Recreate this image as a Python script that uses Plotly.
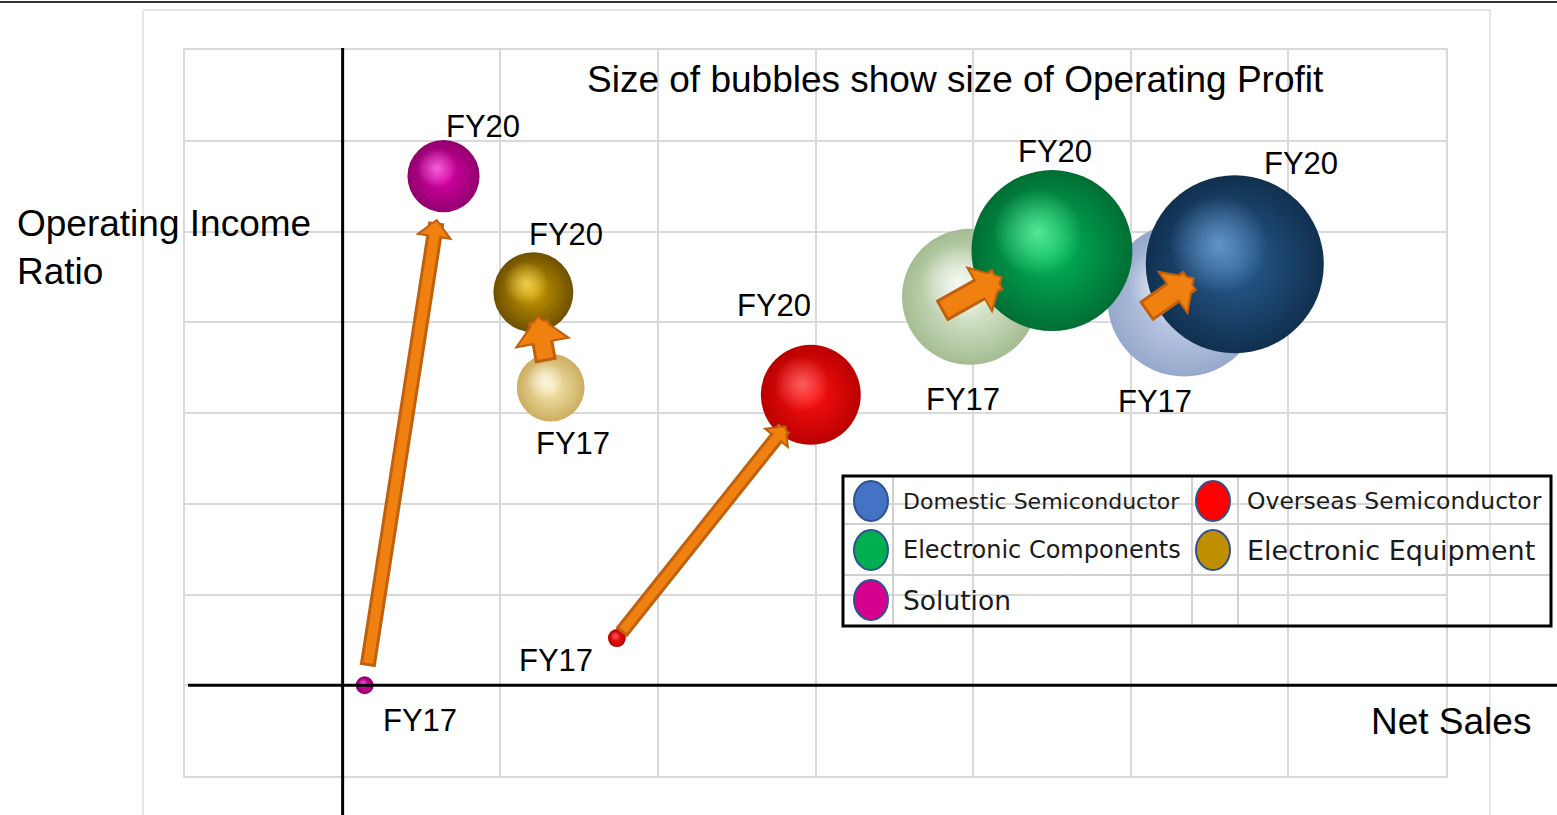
import math
import plotly.graph_objects as go

# ---------------- data ----------------
segments = ["Domestic Semiconductor", "Overseas Semiconductor",
            "Electronic Components", "Electronic Equipment", "Solution"]
net_sales_fy17 = [5.34, 1.74, 3.98, 1.32, 0.14]
net_sales_fy20 = [5.66, 2.97, 4.50, 1.21, 0.64]
op_ratio_fy17 = [4.25, 0.52, 4.28, 3.28, 0.00]
op_ratio_fy20 = [4.64, 3.20, 4.79, 4.33, 5.61]
op_profit_fy17 = [237, 3.2, 185, 46, 3.2]
op_profit_fy20 = [317, 100, 259, 64, 52]
year_labels = ["FY17", "FY20"]
title_text = "Size of bubbles show size of Operating Profit"
x_title = "Net Sales"
y_title = "Operating Income<br>Ratio"

# ---------------- styles ----------------
W, H = 1557, 815
FONT = "Liberation Sans, Arial, sans-serif"
LEG_FONT = "DejaVu Sans, sans-serif"

X_RANGE = [-1, 7]
Y_RANGE = [-1, 7]
X_DOM_PX = (185, 1446)
Y_DOM_PX = (776, 50)
PX_PER_X = (X_DOM_PX[1] - X_DOM_PX[0]) / (X_RANGE[1] - X_RANGE[0])
PX_PER_Y = (Y_DOM_PX[0] - Y_DOM_PX[1]) / (Y_RANGE[1] - Y_RANGE[0])

legend_colors = ["#4472C4", "#FF0000", "#00B050", "#BF8F00", "#D6008F"]
legend_sizes = [22, 23.5, 24, 27, 26.5]
fy20_main = ["#2A5E93", "#FF1212", "#00B85A", "#CC9C00", "#DC00AA"]
fy20_edge = ["#10304F", "#BA0000", "#006E33", "#6E5000", "#92006E"]
fy20_hl = [(120, 170, 225), (255, 120, 120), (110, 255, 175), (255, 230, 100), (255, 130, 235)]
fy17_main = ["#CED9F0", "#FF1212", "#E8F3DE", "#F9EAB6", "#DC00AA"]
fy17_edge = ["#96A8CC", "#BA0000", "#A4BC92", "#CCAE60", "#92006E"]
fy17_hl = [(255, 255, 255), (255, 120, 120), (255, 255, 255), (255, 255, 245), (255, 130, 235)]

# label offsets in px (dx, dy-up)
fy17_label_shift = [(-29, -102), (-61, -22), (-7, -103), (22, -56), (55, -35)]
fy20_label_shift = [(66, 101), (-37, 89), (3, 99), (33, 58), (39, 50)]

# arrow styling: standoff, startstandoff, xshift, yshift, shaft width, head width
arrow_style = [
    (0, 0, -40, -13, 24, 55),
    (39, 5, 0, 0, 15, 34),
    (22, 0, -30, -15, 24, 55),
    (23, 25, 0, 0, 22, 58),
    (43, 18, 0, 0, 16, 38),
]
ARROW_EDGE = "#C0600C"
ARROW_FILL = "#F0800F"


def px(xpix):
    return xpix / W


def py(ypix):
    return 1 - ypix / H


fig = go.Figure()

MAX_DIAM = 178
sizeref = 2.0 * max(op_profit_fy17 + op_profit_fy20) / (MAX_DIAM ** 2)


def diam(v):
    return math.sqrt(2.0 * v / sizeref)


def add_spheres(xs, ys, vals, main, edge, hl, name):
    fig.add_trace(go.Scatter(
        x=xs, y=ys, mode="markers", name=name, text=segments,
        hoverinfo="skip", showlegend=False, cliponaxis=False,
        marker=dict(size=vals, sizemode="area", sizeref=sizeref, opacity=1,
                    color=edge, line=dict(width=0),
                    gradient=dict(type="radial", color=main)),
    ))
    # specular highlight, shifted up-left relative to each bubble's size
    d = [diam(v) for v in vals]
    hx = [x - 0.09 * di / PX_PER_X for x, di in zip(xs, d)]
    hy = [y + 0.11 * di / PX_PER_Y for y, di in zip(ys, d)]
    fig.add_trace(go.Scatter(
        x=hx, y=hy, mode="markers", hoverinfo="skip", showlegend=False, cliponaxis=False,
        marker=dict(size=[0.55 * di for di in d], sizemode="diameter", opacity=1,
                    color=["rgba(%d,%d,%d,0)" % c for c in hl], line=dict(width=0),
                    gradient=dict(type="radial", color=["rgba(%d,%d,%d,0.75)" % c for c in hl])),
    ))


add_spheres(net_sales_fy17, op_ratio_fy17, op_profit_fy17, fy17_main, fy17_edge, fy17_hl, year_labels[0])
add_spheres(net_sales_fy20, op_ratio_fy20, op_profit_fy20, fy20_main, fy20_edge, fy20_hl, year_labels[1])

# year labels
for i in range(len(segments)):
    for xs, ys, shifts, lab in ((net_sales_fy17, op_ratio_fy17, fy17_label_shift, year_labels[0]),
                                (net_sales_fy20, op_ratio_fy20, fy20_label_shift, year_labels[1])):
        fig.add_annotation(x=xs[i], y=ys[i], xref="x", yref="y", text=lab, showarrow=False,
                           xshift=shifts[i][0], yshift=shifts[i][1], yanchor="middle",
                           font=dict(family=FONT, size=31, color="black"))

# arrows FY17 -> FY20
for i in range(len(segments)):
    so, sso, xs_, ys_, shaft, head = arrow_style[i]
    common = dict(x=net_sales_fy20[i], y=op_ratio_fy20[i], ax=net_sales_fy17[i], ay=op_ratio_fy17[i],
                  xref="x", yref="y", axref="x", ayref="y", text="", showarrow=True,
                  arrowhead=1, xshift=xs_, yshift=ys_)
    inner = shaft - 6
    fig.add_annotation(**common, arrowcolor=ARROW_EDGE, arrowwidth=shaft,
                       arrowsize=(head / 6) / shaft, standoff=so, startstandoff=sso)
    fig.add_annotation(**common, arrowcolor=ARROW_FILL, arrowwidth=inner,
                       arrowsize=((head - 10) / 6) / inner, standoff=so + 3, startstandoff=sso + 3)

# titles
fig.add_annotation(x=px(955), y=py(79), xref="paper", yref="paper", text=title_text,
                   showarrow=False, yanchor="middle",
                   font=dict(family=FONT, size=37, color="black"))
fig.add_annotation(x=px(15), y=py(247), xref="paper", yref="paper", text=y_title,
                   showarrow=False, xanchor="left", yanchor="middle", align="left",
                   font=dict(family=FONT, size=37, color="black"))
fig.add_annotation(x=px(1533), y=py(721), xref="paper", yref="paper", text=x_title,
                   showarrow=False, xanchor="right", yanchor="middle",
                   font=dict(family=FONT, size=37, color="black"))

shapes = []
# top border line
shapes.append(dict(type="line", xref="paper", yref="paper", x0=0, x1=1, y0=py(2), y1=py(2),
                   line=dict(color="#333333", width=2)))
# faint outer panel
shapes.append(dict(type="rect", xref="paper", yref="paper", x0=px(143), x1=px(1490), y0=-0.02, y1=py(10),
                   line=dict(color="#E6E6E6", width=2), layer="below"))
# axis cross lines
shapes.append(dict(type="line", xref="x", yref="paper", x0=0, x1=0, y0=0, y1=py(48),
                   line=dict(color="black", width=3), layer="above"))
shapes.append(dict(type="line", xref="paper", yref="y", x0=px(188), x1=1, y0=0, y1=0,
                   line=dict(color="black", width=3), layer="above"))

# custom legend (table-like)
leg_cols = [843, 893, 1192, 1238, 1551]
leg_rows = [476, 524, 575, 626]
for cx in leg_cols[1:-1]:
    shapes.append(dict(type="line", xref="paper", yref="paper", x0=px(cx), x1=px(cx),
                       y0=py(leg_rows[0]), y1=py(leg_rows[-1]), line=dict(color="#D0D0D0", width=2)))
for ry in leg_rows[1:-1]:
    shapes.append(dict(type="line", xref="paper", yref="paper", x0=px(leg_cols[0]), x1=px(leg_cols[-1]),
                       y0=py(ry), y1=py(ry), line=dict(color="#D0D0D0", width=2)))
shapes.append(dict(type="rect", xref="paper", yref="paper", x0=px(leg_cols[0]), x1=px(leg_cols[-1]),
                   y0=py(leg_rows[-1]), y1=py(leg_rows[0]), line=dict(color="black", width=3)))
marker_cx = [871, 1213]
text_x = [901, 1245]
row_cy = [501, 550, 600]
for k, seg in enumerate(segments):
    r, c = divmod(k, 2)
    mx, my = marker_cx[c], row_cy[r]
    shapes.append(dict(type="circle", xref="paper", yref="paper",
                       x0=px(mx - 17), x1=px(mx + 17), y0=py(my + 20), y1=py(my - 20),
                       fillcolor=legend_colors[k], line=dict(color="#2F528F", width=2)))
    fig.add_annotation(x=px(text_x[c]), y=py(my), xref="paper", yref="paper", text=seg,
                       showarrow=False, xanchor="left", yanchor="middle",
                       font=dict(family=LEG_FONT, size=legend_sizes[k], color="#1A1A1A"))

fig.update_layout(
    width=W, height=H, margin=dict(l=0, r=0, t=0, b=0),
    paper_bgcolor="white", plot_bgcolor="white",
    shapes=shapes, showlegend=False,
)
axis_common = dict(tick0=0, dtick=1, showgrid=True, gridcolor="#D9D9D9", gridwidth=2,
                   zeroline=False, showticklabels=False, ticks="", showline=True, mirror=True,
                   linecolor="#D9D9D9", linewidth=2, fixedrange=True)
fig.update_xaxes(range=X_RANGE, domain=[px(X_DOM_PX[0]), px(X_DOM_PX[1])], **axis_common)
fig.update_yaxes(range=Y_RANGE, domain=[py(Y_DOM_PX[0]), py(Y_DOM_PX[1])], **axis_common)

fig.write_html("out.html", config=dict(displayModeBar=False))
